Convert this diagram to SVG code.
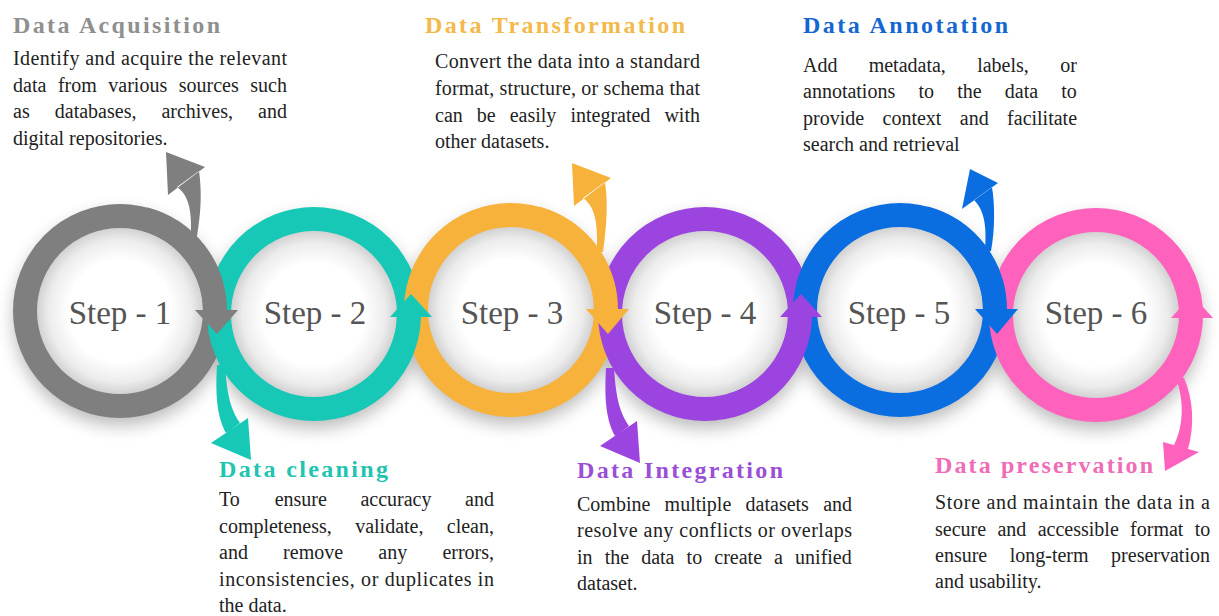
<svg xmlns="http://www.w3.org/2000/svg" width="1219" height="616" viewBox="0 0 1219 616">
<defs>
<filter id="sh" x="-30%" y="-30%" width="160%" height="170%"><feGaussianBlur stdDeviation="9"/></filter>
<radialGradient id="inner" cx="50%" cy="50%" r="50%">
<stop offset="0" stop-color="#ffffff"/><stop offset="0.6" stop-color="#ffffff"/><stop offset="0.84" stop-color="#ececec"/><stop offset="1" stop-color="#cdcdcd"/>
</radialGradient>
<style>
.ring{fill:none;stroke-width:24}
.disc{fill:url(#inner)}
.lbl{font-family:'Liberation Serif','Times New Roman','DejaVu Serif','Noto Serif',serif;font-size:33px;fill:#555;text-anchor:middle}
.hd{font-family:'Liberation Serif','Times New Roman','DejaVu Serif','Noto Serif',serif;font-size:24px;font-weight:bold}
.tx{font-family:'Liberation Serif','Times New Roman','DejaVu Serif','Noto Serif',serif;font-size:20px;fill:#222}
.c1{fill:#7f7f7f}.c2{fill:#17c8b6}.c3{fill:#f7b23b}.c4{fill:#9c44e0}.c5{fill:#0b6ee0}.c6{fill:#fe62bd}
.s1{stroke:#7f7f7f}.s2{stroke:#17c8b6}.s3{stroke:#f7b23b}.s4{stroke:#9c44e0}.s5{stroke:#0b6ee0}.s6{stroke:#fe62bd}
</style>
</defs>
<rect width="1219" height="616" fill="#ffffff"/>
<g id="shadows" filter="url(#sh)" fill="#000" opacity="0.28">
<circle cx="120" cy="319" r="106"/><circle cx="314" cy="322" r="106"/><circle cx="511" cy="318" r="106"/>
<circle cx="705" cy="322" r="106"/><circle cx="900" cy="318" r="106"/><circle cx="1096" cy="323" r="106"/>
</g>
<g id="step-1">
<circle class="disc" cx="120" cy="311" r="85"/>
<circle class="ring s1" cx="120" cy="311" r="95"/>
<text class="lbl" x="120" y="324">Step - 1</text>
<text class="hd" x="13" y="33" fill="#8f8f8f" textLength="207" lengthAdjust="spacing">Data Acquisition</text>
<text class="tx"><tspan x="13" y="65" textLength="274" lengthAdjust="spacing">Identify and acquire the relevant</tspan></text>
<text class="tx" y="92"><tspan x="13">data</tspan><tspan x="57.9">from</tspan><tspan x="108.3">various</tspan><tspan x="178.8">sources</tspan><tspan x="250.3">such</tspan></text>
<text class="tx" y="118"><tspan x="13">as</tspan><tspan x="54.8">databases,</tspan><tspan x="161.4">archives,</tspan><tspan x="258.1">and</tspan></text>
<text class="tx" x="13" y="145">digital repositories.</text>
</g>
<g id="step-2">
<circle class="disc" cx="314" cy="314" r="85"/>
<circle class="ring s2" cx="314" cy="314" r="95"/>
<text class="lbl" x="315" y="324">Step - 2</text>
<text class="hd" x="219" y="477" fill="#22c4b1" textLength="169" lengthAdjust="spacing">Data cleaning</text>
<text class="tx" y="506"><tspan x="219">To</tspan><tspan x="274.7">ensure</tspan><tspan x="360.4">accuracy</tspan><tspan x="465.1">and</tspan></text>
<text class="tx" y="533"><tspan x="219">completeness,</tspan><tspan x="355.2">validate,</tspan><tspan x="446.8">clean,</tspan></text>
<text class="tx" y="559"><tspan x="219">and</tspan><tspan x="283.1">remove</tspan><tspan x="378.3">any</tspan><tspan x="442.4">errors,</tspan></text>
<text class="tx"><tspan x="219" y="586" textLength="275" lengthAdjust="spacing">inconsistencies, or duplicates in</tspan></text>
<text class="tx" x="219" y="612">the data.</text>
</g>
<g id="step-3">
<circle class="disc" cx="511" cy="310" r="85"/>
<circle class="ring s3" cx="511" cy="310" r="95"/>
<text class="lbl" x="512" y="324">Step - 3</text>
<text class="hd" x="425" y="33" fill="#f3b94a" textLength="260" lengthAdjust="spacing">Data Transformation</text>
<text class="tx"><tspan x="435" y="68" textLength="265" lengthAdjust="spacing">Convert the data into a standard</tspan></text>
<text class="tx"><tspan x="435" y="95" textLength="265" lengthAdjust="spacing">format, structure, or schema that</tspan></text>
<text class="tx" y="122"><tspan x="435">can</tspan><tspan x="476.8">be</tspan><tspan x="509.7">easily</tspan><tspan x="570.4">integrated</tspan><tspan x="664.4">with</tspan></text>
<text class="tx" x="435" y="148">other datasets.</text>
</g>
<g id="step-4">
<circle class="disc" cx="705" cy="314" r="85"/>
<circle class="ring s4" cx="705" cy="314" r="95"/>
<text class="lbl" x="705" y="324">Step - 4</text>
<text class="hd" x="577" y="478" fill="#9a4fd6" textLength="206" lengthAdjust="spacing">Data Integration</text>
<text class="tx" y="511"><tspan x="577">Combine</tspan><tspan x="664.6">multiple</tspan><tspan x="745.6">datasets</tspan><tspan x="823.2">and</tspan></text>
<text class="tx"><tspan x="577" y="537" textLength="275" lengthAdjust="spacing">resolve any conflicts or overlaps</tspan></text>
<text class="tx" y="564"><tspan x="577">in</tspan><tspan x="604.7">the</tspan><tspan x="641.2">data</tspan><tspan x="686.6">to</tspan><tspan x="714.3">create</tspan><tspan x="774.1">a</tspan><tspan x="795.1">unified</tspan></text>
<text class="tx" x="577" y="590">dataset.</text>
</g>
<g id="step-5">
<circle class="disc" cx="900" cy="310" r="85"/>
<circle class="ring s5" cx="900" cy="310" r="95"/>
<text class="lbl" x="899" y="324">Step - 5</text>
<text class="hd" x="803" y="33" fill="#1467d1" textLength="205" lengthAdjust="spacing">Data Annotation</text>
<text class="tx" y="72"><tspan x="803">Add</tspan><tspan x="868.7">metadata,</tspan><tspan x="977.2">labels,</tspan><tspan x="1060.2">or</tspan></text>
<text class="tx" y="98"><tspan x="803">annotations</tspan><tspan x="918.4">to</tspan><tspan x="957.2">the</tspan><tspan x="1004.8">data</tspan><tspan x="1061.3">to</tspan></text>
<text class="tx" y="125"><tspan x="803">provide</tspan><tspan x="882.5">context</tspan><tspan x="959.8">and</tspan><tspan x="1007.1">facilitate</tspan></text>
<text class="tx" x="803" y="151">search and retrieval</text>
</g>
<g id="step-6">
<circle class="disc" cx="1096" cy="315" r="85"/>
<circle class="ring s6" cx="1096" cy="315" r="95"/>
<text class="lbl" x="1096" y="324">Step - 6</text>
<text class="hd" x="935" y="473" fill="#ef6cb6" textLength="218" lengthAdjust="spacing">Data preservation</text>
<text class="tx"><tspan x="935" y="509" textLength="275" lengthAdjust="spacing">Store and maintain the data in a</tspan></text>
<text class="tx" y="536"><tspan x="935">secure</tspan><tspan x="997.4">and</tspan><tspan x="1037.7">accessible</tspan><tspan x="1130.1">format</tspan><tspan x="1194.8">to</tspan></text>
<text class="tx" y="562"><tspan x="935">ensure</tspan><tspan x="1009.7">long-term</tspan><tspan x="1111.1">preservation</tspan></text>
<text class="tx" x="935" y="588">and usability.</text>
</g>
<g id="connectors">
<path class="ring s1" d="M144.6,219.2 A95,95 0 0 1 215,311"/>
<path class="c1" d="M195,310 L238,310 L217,334 Z"/>
<path class="ring s2" d="M338.6,405.8 A95,95 0 0 0 409,314"/>
<path class="c2" d="M390,317 L432,317 L411,294 Z"/>
<path class="ring s3" d="M535.6,218.2 A95,95 0 0 1 606,310"/>
<path class="c3" d="M586,309 L629,309 L608,334 Z"/>
<path class="ring s4" d="M729.6,405.8 A95,95 0 0 0 800,314"/>
<path class="c4" d="M780,317 L822,317 L801,294 Z"/>
<path class="ring s5" d="M924.6,218.2 A95,95 0 0 1 995,310"/>
<path class="c5" d="M975,309 L1018,309 L997,334 Z"/>
<path class="c6" d="M1171,318 L1213,318 L1192,295 Z"/>
<path class="c1" d="M177,187 C188,195 192,208 191,236 L197,236 C201,212 202,192 199,171 Z M166,152 L205,167 L168,195 Z"/>
<path class="c3" d="M583,198 C594,206 598,219 597,252 L603,252 C607,223 608,203 605,182 Z M572,163 L611,178 L574,206 Z"/>
<path class="c5" d="M974,200 C984,210 987,225 985,251 L991,251 C995,230 995,205 992,187 Z M970,169 L998,183 L962,209 Z"/>
<path class="c2" d="M217,365 C215,400 218,418 226,433 L240,423 C231,410 227,396 225,365 Z M211,443 L248,418 L251,460 Z"/>
<path class="c4" d="M606,368 C604,403 607,421 615,436 L629,426 C620,413 616,399 614,368 Z M600,446 L637,421 L640,463 Z"/>
<path class="c6" d="M1176,378 C1184,400 1184,425 1174,445 L1188,449 C1195,425 1193,398 1184,378 Z M1163,442 L1199,452 L1165,471 Z"/>
</g>
</svg>
